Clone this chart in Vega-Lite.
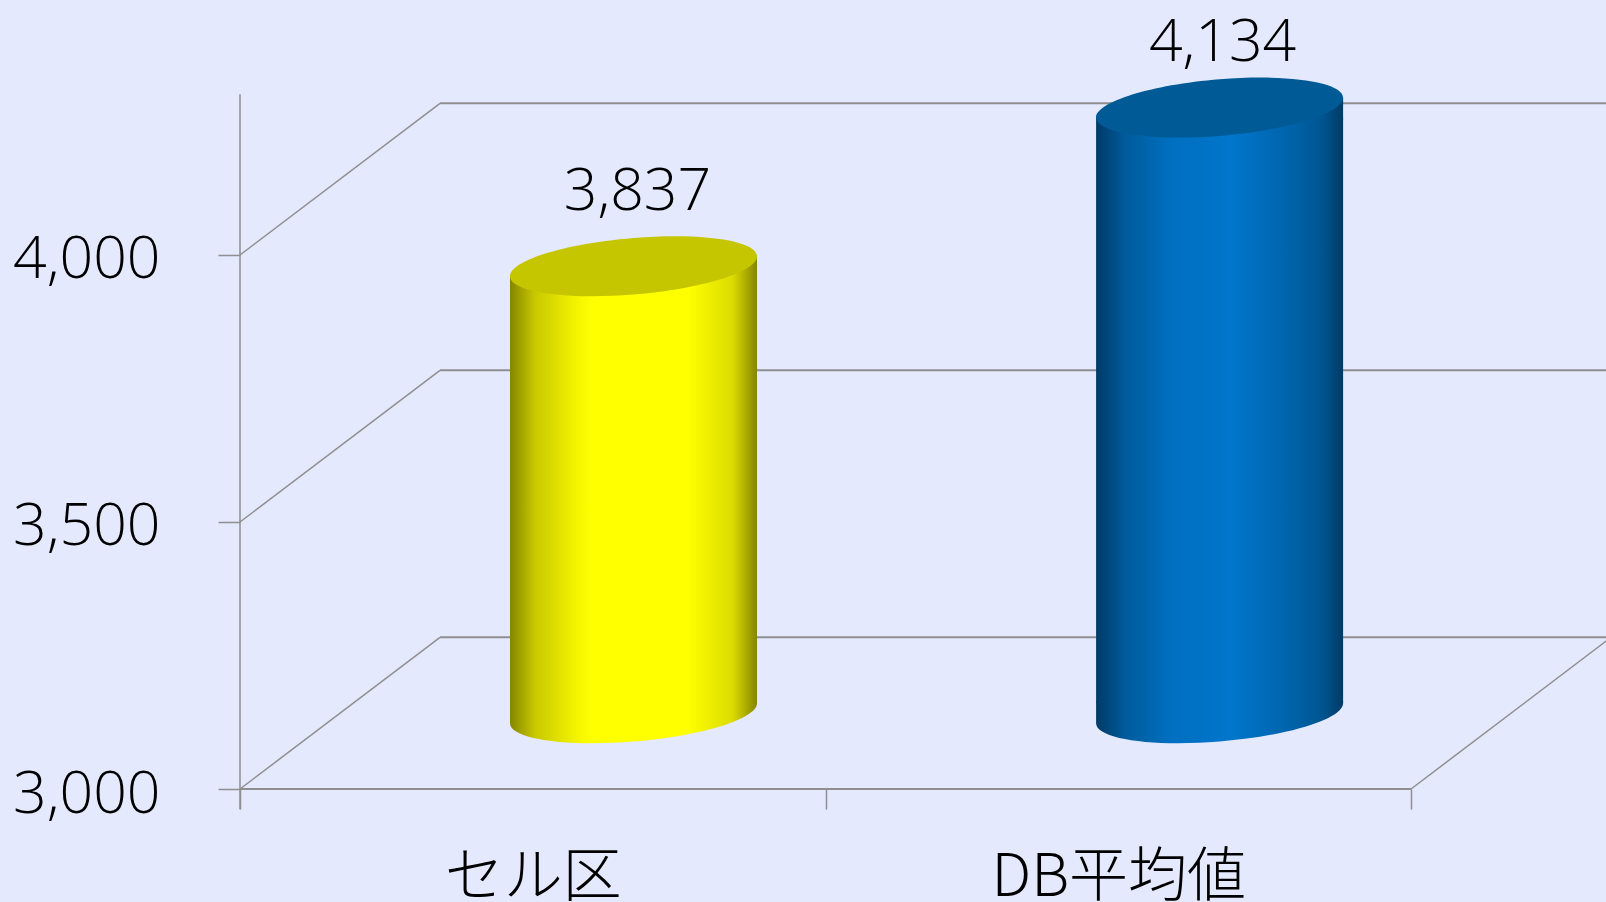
{
"$schema":"https://vega.github.io/schema/vega-lite/v6.json",
"width":1366,"height":789,
"autosize":"none",
"padding":{"left":240,"top":0,"right":0,"bottom":113},
"background":"#e4e9fe",
"config":{"view":{"stroke":null}},
"datasets":{
"bars":[{"category":"セル区","value":3837},{"category":"DB平均値","value":4134}],
"frame":[
{"path":"front","kind":"plane","x":0,"y":3000},{"path":"front","kind":"plane","x":2,"y":3000},
{"path":"back3000","kind":"plane","x":0.3416,"y":3284},{"path":"back3000","kind":"plane","x":2.3416,"y":3284},
{"path":"back3500","kind":"plane","x":0.3416,"y":3784},{"path":"back3500","kind":"plane","x":2.3416,"y":3784},
{"path":"back4000","kind":"plane","x":0.3416,"y":4284},{"path":"back4000","kind":"plane","x":2.3416,"y":4284},
{"path":"d3000","kind":"edge","x":0,"y":3000},{"path":"d3000","kind":"edge","x":0.3416,"y":3284},
{"path":"d3500","kind":"edge","x":0,"y":3500},{"path":"d3500","kind":"edge","x":0.3416,"y":3784},
{"path":"d4000","kind":"edge","x":0,"y":4000},{"path":"d4000","kind":"edge","x":0.3416,"y":4284},
{"path":"dright","kind":"edge","x":2,"y":3000},{"path":"dright","kind":"edge","x":2.3416,"y":3284},
{"path":"axis","kind":"edge","x":0,"y":4301},{"path":"axis","kind":"edge","x":0,"y":2962}
]},
"resolve":{"scale":{"x":"independent","y":"independent"},"axis":{"x":"independent","y":"independent"}},
"layer":[
{
"data":{"name":"frame"},
"mark":{"type":"line","color":"#8f8f8f","clip":false},
"encoding":{
"x":{"field":"x","type":"quantitative","scale":{"domain":[0,2.333],"nice":false,"zero":false},
"axis":{"title":null,"grid":false,"domain":false,"values":[0,0.5,1,1.5,2],"tickSize":20,"tickColor":"#8f8f8f","tickWidth":1.5,
"tickOpacity":{"condition":{"test":"datum.value==0.5||datum.value==1.5","value":0},"value":1},
"labelExpr":"datum.value==0.5?'セル区':datum.value==1.5?'DB平均値':''",
"labelFont":"Noto Sans CJK JP","labelFontWeight":300,"labelFontSize":59,"labelColor":"#000000","labelPadding":68,"labelBaseline":"middle","labelOverlap":false,"labelFlush":false,"labelBound":false,"labelAngle":0,"labelLimit":600}},
"y":{"field":"y","type":"quantitative","scale":{"domain":[3000,4477.5],"nice":false,"zero":false},
"axis":{"title":null,"grid":false,"domain":false,"values":[3000,3500,4000],"labelExpr":"format(datum.value,',')","tickSize":22,"tickColor":"#8f8f8f","tickWidth":1.5,
"labelFont":"Open Sans","labelFontWeight":300,"labelFontSize":59,"labelColor":"#000000","labelPadding":58,"labelOffset":5,"labelBaseline":"middle","labelOverlap":false,"labelBound":false,"labelFlush":false,"labelLimit":400}},
"detail":{"field":"path"},
"strokeWidth":{"field":"kind","type":"nominal","scale":{"domain":["plane","edge"],"range":[2,1.5]},"legend":null}
}
},
{
"data":{"name":"bars"},
"encoding":{
"x":{"field":"category","type":"nominal","sort":null,"scale":{"type":"point","padding":0,"domain":["セル区","DB平均値"],"range":[393.5,979.6]},"axis":null},
"y":{"field":"value","type":"quantitative","scale":{"domain":[2858,4335.5],"nice":false,"zero":false},"axis":null}
},
"layer":[
{"transform":[{"filter":"datum.category=='セル区'"}],
"mark":{"type":"bar","width":247,"yOffset":10,"y2Offset":-10,"fill":{"gradient":"linear","x1":0,"y1":0,"x2":1,"y2":0,"stops":[{"offset":0,"color":"#858500"},{"offset":0.1,"color":"#c8c800"},{"offset":0.27,"color":"#f4f400"},{"offset":0.33,"color":"#ffff00"},{"offset":0.72,"color":"#ffff00"},{"offset":0.9,"color":"#dcdc00"},{"offset":1,"color":"#858500"}]}},
"encoding":{"y2":{"datum":3000}}},
{"transform":[{"filter":"datum.category=='セル区'"}],
"mark":{"type":"point","filled":true,"opacity":1,"strokeWidth":0,"size":4,"shape":"M-123.5 10 L123.5 -10 L123.5 12 L-123.5 12 Z","fill":{"gradient":"linear","x1":0,"y1":0,"x2":1,"y2":0,"stops":[{"offset":0,"color":"#858500"},{"offset":0.1,"color":"#c8c800"},{"offset":0.27,"color":"#f4f400"},{"offset":0.33,"color":"#ffff00"},{"offset":0.72,"color":"#ffff00"},{"offset":0.9,"color":"#dcdc00"},{"offset":1,"color":"#858500"}]}}},
{"transform":[{"filter":"datum.category=='セル区'"}],
"mark":{"type":"point","filled":true,"opacity":1,"strokeWidth":0,"size":4,"shape":"M-123.5 -12 L123.5 -12 L123.5 -10 C123.5 5.63 68.2 22.78 0 28.3 C-68.2 33.82 -123.5 25.63 -123.5 10 Z","fill":{"gradient":"linear","x1":0,"y1":0,"x2":1,"y2":0,"stops":[{"offset":0,"color":"#858500"},{"offset":0.1,"color":"#c8c800"},{"offset":0.27,"color":"#f4f400"},{"offset":0.33,"color":"#ffff00"},{"offset":0.72,"color":"#ffff00"},{"offset":0.9,"color":"#dcdc00"},{"offset":1,"color":"#858500"}]}},
"encoding":{"y":{"datum":3000,"type":"quantitative"}}},
{"transform":[{"filter":"datum.category=='セル区'"}],
"mark":{"type":"point","filled":true,"opacity":1,"strokeWidth":0,"size":4,"fill":"#c6c600","shape":"M123.5 -10 C123.5 5.63 68.2 22.78 0 28.3 C-68.2 33.82 -123.5 25.63 -123.5 10 C-123.5 -5.63 -68.2 -22.78 0 -28.3 C68.2 -33.82 123.5 -25.63 123.5 -10 Z"}},
{"transform":[{"filter":"datum.category=='DB平均値'"}],
"mark":{"type":"bar","width":247,"yOffset":10,"y2Offset":-10,"fill":{"gradient":"linear","x1":0,"y1":0,"x2":1,"y2":0,"stops":[{"offset":0,"color":"#003a66"},{"offset":0.12,"color":"#005c9c"},{"offset":0.3,"color":"#006fc0"},{"offset":0.55,"color":"#0076cc"},{"offset":0.8,"color":"#0062a8"},{"offset":0.92,"color":"#00548f"},{"offset":1,"color":"#003a66"}]}},
"encoding":{"y2":{"datum":3000}}},
{"transform":[{"filter":"datum.category=='DB平均値'"}],
"mark":{"type":"point","filled":true,"opacity":1,"strokeWidth":0,"size":4,"shape":"M-123.5 10 L123.5 -10 L123.5 12 L-123.5 12 Z","fill":{"gradient":"linear","x1":0,"y1":0,"x2":1,"y2":0,"stops":[{"offset":0,"color":"#003a66"},{"offset":0.12,"color":"#005c9c"},{"offset":0.3,"color":"#006fc0"},{"offset":0.55,"color":"#0076cc"},{"offset":0.8,"color":"#0062a8"},{"offset":0.92,"color":"#00548f"},{"offset":1,"color":"#003a66"}]}}},
{"transform":[{"filter":"datum.category=='DB平均値'"}],
"mark":{"type":"point","filled":true,"opacity":1,"strokeWidth":0,"size":4,"shape":"M-123.5 -12 L123.5 -12 L123.5 -10 C123.5 5.63 68.2 22.78 0 28.3 C-68.2 33.82 -123.5 25.63 -123.5 10 Z","fill":{"gradient":"linear","x1":0,"y1":0,"x2":1,"y2":0,"stops":[{"offset":0,"color":"#003a66"},{"offset":0.12,"color":"#005c9c"},{"offset":0.3,"color":"#006fc0"},{"offset":0.55,"color":"#0076cc"},{"offset":0.8,"color":"#0062a8"},{"offset":0.92,"color":"#00548f"},{"offset":1,"color":"#003a66"}]}},
"encoding":{"y":{"datum":3000,"type":"quantitative"}}},
{"transform":[{"filter":"datum.category=='DB平均値'"}],
"mark":{"type":"point","filled":true,"opacity":1,"strokeWidth":0,"size":4,"fill":"#005a96","shape":"M123.5 -10 C123.5 5.63 68.2 22.78 0 28.3 C-68.2 33.82 -123.5 25.63 -123.5 10 C-123.5 -5.63 -68.2 -22.78 0 -28.3 C68.2 -33.82 123.5 -25.63 123.5 -10 Z"}},
{"transform":[{"filter":"datum.category=='セル区'"}],
"mark":{"type":"text","font":"Open Sans","fontWeight":300,"fontSize":59,"color":"#000000","dx":4,"dy":-74,"baseline":"middle","align":"center"},
"encoding":{"text":{"field":"value","type":"quantitative","format":","}}},
{"transform":[{"filter":"datum.category=='DB平均値'"}],
"mark":{"type":"text","font":"Open Sans","fontWeight":300,"fontSize":59,"color":"#000000","dx":3,"dy":-65,"baseline":"middle","align":"center"},
"encoding":{"text":{"field":"value","type":"quantitative","format":","}}}
]
}
]
}
